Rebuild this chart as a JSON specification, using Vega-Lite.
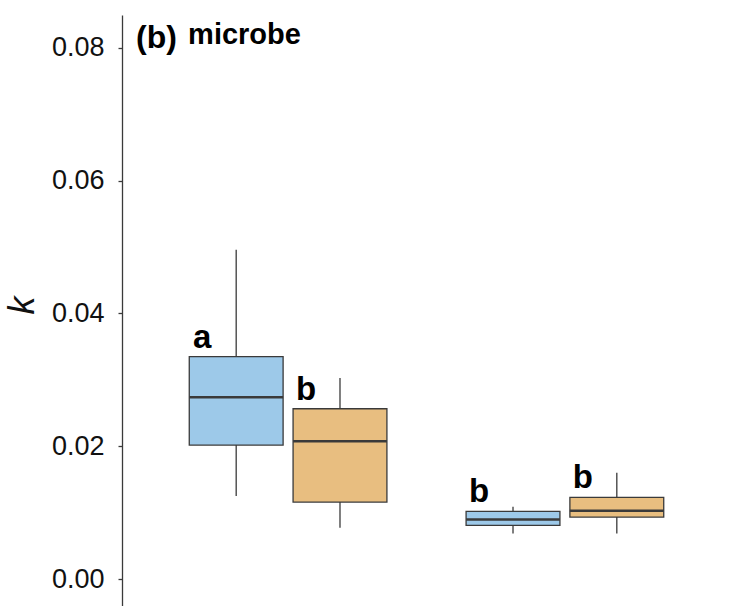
{
  "$schema": "https://vega.github.io/schema/vega-lite/v6.json",
  "width": 609,
  "height": 591,
  "autosize": "none",
  "padding": {"left": 122, "top": 15, "right": 1, "bottom": 0},
  "background": "white",
  "config": {"view": {"stroke": null}, "font": "Liberation Sans"},
  "data": {
    "values": [
      {"group": "g1", "treatment": "A", "lower": 0.01253, "q1": 0.0202, "median": 0.0274, "q3": 0.0335, "upper": 0.0496, "letter": "a"},
      {"group": "g1", "treatment": "B", "lower": 0.00777, "q1": 0.01163, "median": 0.0208, "q3": 0.02567, "upper": 0.0303, "letter": "b"},
      {"group": "g2", "treatment": "A", "lower": 0.00692, "q1": 0.00812, "median": 0.00902, "q3": 0.01022, "upper": 0.01093, "letter": "b"},
      {"group": "g2", "treatment": "B", "lower": 0.00692, "q1": 0.00937, "median": 0.01033, "q3": 0.01233, "upper": 0.01604, "letter": "b"}
    ]
  },
  "resolve": {"scale": {"y": "shared"}},
  "layer": [
    {
      "mark": {"type": "rule", "color": "#3a3a3a", "strokeWidth": 1.3},
      "encoding": {
        "x": {"field": "group", "type": "nominal", "axis": null, "scale": {"paddingInner": 0.25, "paddingOuter": 0.225}},
        "xOffset": {"field": "treatment", "type": "nominal", "scale": {"paddingInner": 0.096, "paddingOuter": 0.048}},
        "y": {
          "field": "lower", "type": "quantitative",
          "scale": {"domain": [-0.004, 0.0849], "nice": false, "zero": false},
          "axis": {
            "values": [0, 0.02, 0.04, 0.06, 0.08],
            "format": ".2f",
            "grid": false,
            "domainColor": "#3a3a3a",
            "domainWidth": 1.3,
            "tickColor": "#3a3a3a",
            "tickSize": 4,
            "tickWidth": 1.3,
            "labelFontSize": 27,
            "labelColor": "#111111",
            "labelPadding": 14,
            "title": "k",
            "titleFontStyle": "italic",
            "titleFontWeight": "normal",
            "titleFontSize": 36,
            "titleColor": "#111111",
            "titlePadding": 10,
            "titleY": 290
          }
        },
        "y2": {"field": "upper"}
      }
    },
    {
      "mark": {"type": "bar", "stroke": "#3a3a3a", "strokeWidth": 1.3},
      "encoding": {
        "x": {"field": "group", "type": "nominal"},
        "xOffset": {"field": "treatment", "type": "nominal"},
        "y": {"field": "q1", "type": "quantitative"},
        "y2": {"field": "q3"},
        "color": {"field": "treatment", "type": "nominal", "scale": {"domain": ["A", "B"], "range": ["#9DC9E9", "#E8BE80"]}, "legend": null}
      }
    },
    {
      "mark": {"type": "bar", "stroke": "#3a3a3a", "strokeWidth": 2.5, "fill": null},
      "encoding": {
        "x": {"field": "group", "type": "nominal"},
        "xOffset": {"field": "treatment", "type": "nominal"},
        "y": {"field": "median", "type": "quantitative"},
        "y2": {"field": "median"}
      }
    },
    {
      "mark": {"type": "text", "fontWeight": "bold", "fontSize": 33, "dx": -34, "dy": -9, "baseline": "alphabetic", "align": "center", "color": "#000000"},
      "encoding": {
        "x": {"field": "group", "type": "nominal"},
        "xOffset": {"field": "treatment", "type": "nominal"},
        "y": {"field": "q3", "type": "quantitative"},
        "text": {"field": "letter"}
      }
    },
    {
      "data": {"values": [{"label": "(b)"}]},
      "mark": {"type": "text", "fontWeight": "bold", "fontSize": 32, "align": "left", "baseline": "alphabetic", "dx": -152, "color": "#000000"},
      "encoding": {
        "x": {"datum": "g1", "type": "nominal"},
        "y": {"datum": 0.08, "type": "quantitative"},
        "text": {"field": "label"}
      }
    },
    {
      "data": {"values": [{"label": "microbe"}]},
      "mark": {"type": "text", "fontWeight": "bold", "fontSize": 29, "align": "left", "baseline": "alphabetic", "dx": -100, "dy": -4, "color": "#000000"},
      "encoding": {
        "x": {"datum": "g1", "type": "nominal"},
        "y": {"datum": 0.08, "type": "quantitative"},
        "text": {"field": "label"}
      }
    }
  ]
}
